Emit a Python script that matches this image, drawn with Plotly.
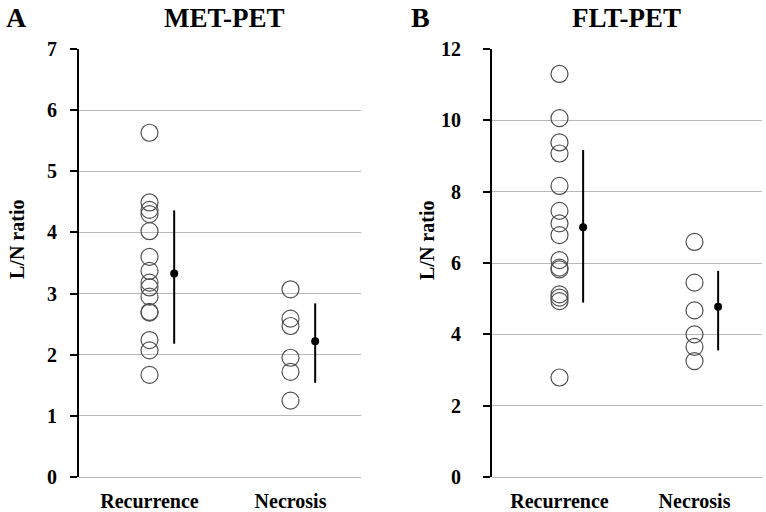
import plotly.graph_objects as go

# ---- data ----
categories = ["Recurrence", "Necrosis"]
cat_pos = [0.5, 1.5]
mean_offset = 0.175

met_recurrence = [5.63, 4.49, 4.37, 4.30, 4.02, 3.60, 3.37, 3.18, 3.10, 2.95, 2.70, 2.69, 2.24, 2.07, 1.67]
met_necrosis = [3.07, 2.59, 2.47, 1.95, 1.72, 1.25]
met_mean = [3.33, 2.22]
met_err_top = [4.36, 2.84]
met_err_bot = [2.18, 1.54]

flt_recurrence = [11.30, 10.06, 9.38, 9.07, 8.16, 7.46, 7.11, 6.78, 6.08, 5.87, 5.82, 5.12, 5.03, 4.93, 2.79]
flt_necrosis = [6.59, 5.45, 4.67, 4.00, 3.65, 3.25]
flt_mean = [7.00, 4.77]
flt_err_top = [9.17, 5.78]
flt_err_bot = [4.89, 3.55]

met_ticks = [0, 1, 2, 3, 4, 5, 6, 7]
flt_ticks = [0, 2, 4, 6, 8, 10, 12]

FONT = "Liberation Serif"
CIRCLE = "#505050"
GRID = "#b8b8b8"

W, H = 766, 512


def px(x):
    return x / W


def py(y):
    return 1 - y / H


fig = go.Figure()


def add_panel(rec, nec, mean, top, bot, xa, ya):
    fig.add_trace(go.Scatter(
        x=[cat_pos[0]] * len(rec), y=rec, mode="markers",
        marker=dict(symbol="circle-open", size=17, color=CIRCLE, line=dict(width=1.2, color=CIRCLE)),
        xaxis=xa, yaxis=ya, showlegend=False))
    fig.add_trace(go.Scatter(
        x=[cat_pos[1]] * len(nec), y=nec, mode="markers",
        marker=dict(symbol="circle-open", size=17, color=CIRCLE, line=dict(width=1.2, color=CIRCLE)),
        xaxis=xa, yaxis=ya, showlegend=False))
    fig.add_trace(go.Scatter(
        x=[p + mean_offset for p in cat_pos], y=mean, mode="markers",
        marker=dict(symbol="circle", size=8, color="black"),
        error_y=dict(type="data", symmetric=False,
                     array=[t - m for t, m in zip(top, mean)],
                     arrayminus=[m - b for m, b in zip(mean, bot)],
                     color="black", thickness=2, width=0),
        xaxis=xa, yaxis=ya, showlegend=False))


add_panel(met_recurrence, met_necrosis, met_mean, met_err_top, met_err_bot, "x", "y")
add_panel(flt_recurrence, flt_necrosis, flt_mean, flt_err_top, flt_err_bot, "x2", "y2")

ydom = [py(477), py(49)]

xcommon = dict(range=[0, 2], showline=False, showgrid=False, zeroline=False, ticks="",
               tickvals=cat_pos, ticktext=categories, ticklabelstandoff=10, automargin=False,
               tickfont=dict(family=FONT, size=20, color="black", weight="bold"), fixedrange=True)
ycommon = dict(showline=True, linecolor="black", linewidth=2, ticks="outside", ticklen=7,
               tickwidth=2, tickcolor="black", showgrid=True, gridcolor=GRID, gridwidth=1,
               zeroline=True, zerolinecolor=GRID, zerolinewidth=1, automargin=False,
               tickfont=dict(family=FONT, size=20, color="black", weight="bold"), domain=ydom)

fig.update_layout(
    width=W, height=H, margin=dict(l=0, r=0, t=0, b=0),
    paper_bgcolor="white", plot_bgcolor="white",
    font=dict(family=FONT), hovermode=False,
    xaxis=dict(domain=[px(79), px(361)], anchor="y", **xcommon),
    xaxis2=dict(domain=[px(492), px(762)], anchor="y2", **xcommon),
    yaxis=dict(range=[0, 7], tickvals=met_ticks, anchor="x", ticklabelstandoff=9, **ycommon),
    yaxis2=dict(range=[0, 12], tickvals=flt_ticks, anchor="x2", ticklabelstandoff=18, **ycommon),
)

ann = [
    dict(text="A", x=16, y=17, size=28),
    dict(text="MET-PET", x=224, y=18, size=27),
    dict(text="B", x=420, y=17, size=28),
    dict(text="FLT-PET", x=626, y=18, size=27),
]
for a in ann:
    fig.add_annotation(text=a["text"], x=px(a["x"]), y=py(a["y"]), xref="paper", yref="paper",
                       xanchor="center", yanchor="middle", showarrow=False,
                       font=dict(family=FONT, size=a["size"], color="black", weight="bold"))

for xp in [17, 427]:
    fig.add_annotation(text="L/N ratio", x=px(xp), y=py(240), xref="paper", yref="paper",
                       xanchor="center", yanchor="middle", showarrow=False, textangle=-90,
                       font=dict(family=FONT, size=20, color="black", weight="bold"))

# remove the default page margin so the 766x512 figure fills the window exactly
fig.write_html("out.html", config={"displayModeBar": False},
               post_script="document.body.style.margin='0';")
